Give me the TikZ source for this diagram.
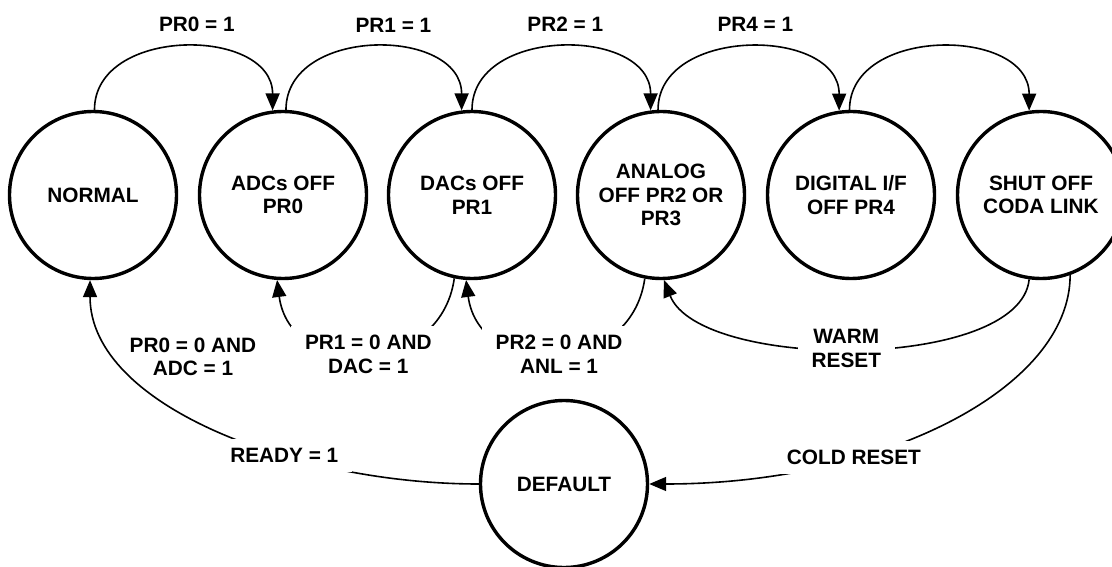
\documentclass[tikz,border=0pt]{standalone}
\usepackage{fontspec}
\setmainfont{Liberation Sans}
\usetikzlibrary{arrows.meta}
\newcommand{\fsmfont}{\fontsize{20.8}{23.5}\selectfont\bfseries}
\begin{document}
\begin{tikzpicture}[x=1pt,y=1pt,
  fsm/.style={circle, draw, line width=3.4pt, minimum size=167pt,
    inner sep=0pt, align=center, font=\fsmfont},
  link/.style={line width=1.6pt, -{Triangle[length=17pt,width=14pt]}},
  toplbl/.style={font=\fsmfont, inner sep=0pt, above=15pt},
  cond/.style={font=\fsmfont, align=center, fill=white,
    inner xsep=14pt, inner ysep=9pt}]
\useasboundingbox (0,0) rectangle (1112,-567);
\fill[white] (0,0) rectangle (1112,-567);
\clip (0,0) rectangle (1112,-567);

% power-down states
\node[fsm] (normal)  at (93,-195)   {NORMAL};
\node[fsm] (adcs)    at (283,-195)  {ADCs OFF\\PR0};
\node[fsm] (dacs)    at (472,-195)  {DACs OFF\\PR1};
\node[fsm] (analog)  at (661,-195)  {ANALOG\\OFF PR2 OR\\PR3};
\node[fsm] (digital) at (851,-195)  {DIGITAL I/F\\OFF PR4};
\node[fsm] (shut)    at (1041,-195) {SHUT OFF\\CODA LINK};
\node[fsm] (def)     at (564,-484)  {DEFAULT};

% stepping down
\draw[link] (normal.89) .. controls +(0,84) and +(0,84) ..
  node[pos=0.55, toplbl] {PR0 = 1} (adcs.97);
\draw[link] (adcs.88) .. controls +(0,84) and +(0,84) ..
  node[pos=0.575, toplbl] {PR1 = 1} (dacs.97);
\draw[link] (dacs.90) .. controls +(0,84) and +(0,84) ..
  node[pos=0.515, toplbl] {PR2 = 1} (analog.97);
\draw[link] (analog.92) .. controls +(0,84) and +(0,84) ..
  node[pos=0.525, toplbl] {PR4 = 1} (digital.98);
\draw[link] (digital.91) .. controls +(0,84) and +(0,84) .. (shut.98);

% stepping back up
\node[cond] (adccond) at (193,-357) {PR0 = 0 AND\\ADC = 1};
\draw[link] (dacs.258) .. controls +(-14,-100) and +(13,-100) ..
  node[pos=0.5, cond, xshift=3pt] {PR1 = 0 AND\\DAC = 1} (adcs.266);
\draw[link] (analog.259) .. controls +(-14,-100) and +(13,-100) ..
  node[pos=0.5, cond, xshift=4pt] {PR2 = 0 AND\\ANL = 1} (dacs.266);
\draw[link] (shut.262) .. controls +(-9,-92) and +(36,-91) ..
  node[pos=0.52, cond] {WARM\\RESET} (analog.272);

% resets and return to normal
\draw[link] (shut.290) .. controls +(0,-114) and +(232,0) ..
  node[pos=0.68, cond] {COLD RESET} (def.east);
\draw[link] (def.west) .. controls +(-180,0) and +(0,-127) ..
  node[pos=0.36, cond] {READY = 1} (normal.268);
\end{tikzpicture}
\end{document}
